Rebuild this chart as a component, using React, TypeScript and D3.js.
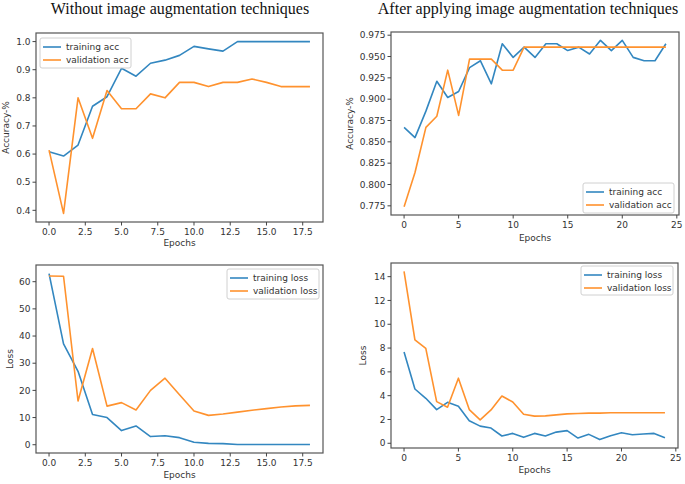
import React from 'react';
import * as d3 from 'd3';

// ---------- DATA ----------
const epochsNoAug = [0, 1, 2, 3, 4, 5, 6, 7, 8, 9, 10, 11, 12, 13, 14, 15, 16, 17, 18];
const epochsAug = [0, 1, 2, 3, 4, 5, 6, 7, 8, 9, 10, 11, 12, 13, 14, 15, 16, 17, 18, 19, 20, 21, 22, 23, 24];

const trainAccNoAug = [0.608, 0.593, 0.632, 0.770, 0.804, 0.905, 0.877, 0.923, 0.934, 0.951, 0.983, 0.974, 0.966, 1.0, 1.0, 1.0, 1.0, 1.0, 1.0];
const valAccNoAug = [0.614, 0.389, 0.800, 0.656, 0.826, 0.761, 0.761, 0.814, 0.800, 0.855, 0.855, 0.840, 0.855, 0.855, 0.867, 0.855, 0.840, 0.840, 0.840];

const trainAccAug = [0.867, 0.855, 0.886, 0.921, 0.902, 0.909, 0.937, 0.945, 0.918, 0.965, 0.949, 0.961, 0.949, 0.965, 0.965, 0.957, 0.961, 0.953, 0.969, 0.957, 0.969, 0.949, 0.945, 0.945, 0.965];
const valAccAug = [0.774, 0.814, 0.867, 0.880, 0.934, 0.881, 0.947, 0.947, 0.947, 0.934, 0.934, 0.961, 0.961, 0.961, 0.961, 0.961, 0.961, 0.961, 0.961, 0.961, 0.961, 0.961, 0.961, 0.961, 0.961];

const trainLossNoAug = [63.0, 37.1, 27.0, 11.1, 10.0, 5.2, 6.9, 3.0, 3.3, 2.6, 0.9, 0.5, 0.4, 0.1, 0.1, 0.1, 0.1, 0.1, 0.1];
const valLossNoAug = [62.1, 62.0, 16.1, 35.4, 14.2, 15.5, 12.8, 20.0, 24.5, 18.4, 12.4, 10.8, 11.3, 12.0, 12.7, 13.3, 13.9, 14.3, 14.5];

const trainLossAug = [7.67, 4.56, 3.78, 2.83, 3.44, 3.11, 1.89, 1.44, 1.28, 0.61, 0.83, 0.5, 0.83, 0.61, 0.94, 1.06, 0.44, 0.75, 0.31, 0.64, 0.89, 0.72, 0.78, 0.83, 0.47];
const valLossAug = [14.44, 8.69, 7.97, 3.5, 3.03, 5.47, 2.83, 1.97, 2.8, 3.97, 3.47, 2.44, 2.28, 2.3, 2.39, 2.47, 2.5, 2.53, 2.53, 2.56, 2.56, 2.56, 2.56, 2.56, 2.56];

const xTicksNoAug = [0, 2.5, 5, 7.5, 10, 12.5, 15, 17.5];
const xTicksAug = [0, 5, 10, 15, 20, 25];
const yTicksAccNoAug = [0.4, 0.5, 0.6, 0.7, 0.8, 0.9, 1.0];
const yTicksAccAug = [0.775, 0.8, 0.825, 0.85, 0.875, 0.9, 0.925, 0.95, 0.975];
const yTicksLossNoAug = [0, 10, 20, 30, 40, 50, 60];
const yTicksLossAug = [0, 2, 4, 6, 8, 10, 12, 14];

const titleLeft = 'Without image augmentation techniques';
const titleRight = 'After applying image augmentation techniques';
const accLegend = ['training acc', 'validation acc'];
const lossLegend = ['training loss', 'validation loss'];

// ---------- STYLE ----------
const BLUE = '#3387c0';
const ORANGE = '#ff922e';
const FONT = 'DejaVu Sans, sans-serif';

type PanelProps = {
  box: { x0: number; x1: number; y0: number; y1: number };
  xs: number[];
  train: number[];
  val: number[];
  xTicks: number[];
  xFmt: (v: number) => string;
  yTicks: number[];
  yFmt: (v: number) => string;
  yLabel: string;
  yLabelX: number;
  xLabelY: number;
  legendLabels: string[];
  legend: { x: number; y: number; w: number; h: number };
};

function pad(ext: [number, number]): [number, number] {
  const m = (ext[1] - ext[0]) * 0.05;
  return [ext[0] - m, ext[1] + m];
}

function Panel(p: PanelProps) {
  const { box } = p;
  const x = d3.scaleLinear().domain(pad(d3.extent(p.xs) as [number, number])).range([box.x0, box.x1]);
  const all = p.train.concat(p.val);
  const y = d3.scaleLinear().domain(pad(d3.extent(all) as [number, number])).range([box.y1, box.y0]);
  const line = d3.line<number>().x((_, i) => x(p.xs[i])).y((d) => y(d));
  const lg = p.legend;
  return (
    <g>
      <rect x={box.x0} y={box.y0} width={box.x1 - box.x0} height={box.y1 - box.y0} fill="white" stroke="#555" strokeWidth={1.2} />
      <path d={line(p.train) || ''} fill="none" stroke={BLUE} strokeWidth={1.6} strokeLinejoin="round" />
      <path d={line(p.val) || ''} fill="none" stroke={ORANGE} strokeWidth={1.6} strokeLinejoin="round" />
      {p.xTicks.map((t) => (
        <g key={'x' + t}>
          <line x1={x(t)} x2={x(t)} y1={box.y1} y2={box.y1 + 3.5} stroke="#444" strokeWidth={1} />
          <text x={x(t)} y={box.y1 + 13} fontSize={9} fontFamily={FONT} fill="#333" textAnchor="middle">
            {p.xFmt(t)}
          </text>
        </g>
      ))}
      {p.yTicks.map((t) => (
        <g key={'y' + t}>
          <line x1={box.x0 - 3.5} x2={box.x0} y1={y(t)} y2={y(t)} stroke="#444" strokeWidth={1} />
          <text x={box.x0 - 5.5} y={y(t) + 3.2} fontSize={9} fontFamily={FONT} fill="#333" textAnchor="end">
            {p.yFmt(t)}
          </text>
        </g>
      ))}
      <text x={(box.x0 + box.x1) / 2} y={p.xLabelY} fontSize={9} fontFamily={FONT} fill="#333" textAnchor="middle">
        Epochs
      </text>
      <text
        transform={`translate(${p.yLabelX},${(box.y0 + box.y1) / 2}) rotate(-90)`}
        fontSize={9}
        fontFamily={FONT}
        fill="#333"
        textAnchor="middle"
      >
        {p.yLabel}
      </text>
      <rect x={lg.x} y={lg.y} width={lg.w} height={lg.h} rx={2} fill="white" fillOpacity={0.85} stroke="#d0d0d0" strokeWidth={1} />
      {[BLUE, ORANGE].map((c, i) => (
        <g key={c}>
          <line x1={lg.x + 3} x2={lg.x + 21} y1={lg.y + 9 + i * 13} y2={lg.y + 9 + i * 13} stroke={c} strokeWidth={1.6} />
          <text x={lg.x + 26} y={lg.y + 12.2 + i * 13} fontSize={9} fontFamily={FONT} fill="#333">
            {p.legendLabels[i]}
          </text>
        </g>
      ))}
    </g>
  );
}

export default function App() {
  const f1 = d3.format('.1f');
  const f3 = d3.format('.3f');
  const fi = d3.format('d');
  return (
    <svg width={685} height={484} style={{ position: 'absolute', left: 0, top: 0, background: 'white' }}>
      <rect width={685} height={484} fill="white" />
      <text x={180} y={14} fontSize={16} fontFamily="Liberation Serif, serif" fill="#111" textAnchor="middle">
        {titleLeft}
      </text>
      <text x={528} y={14} fontSize={16} fontFamily="Liberation Serif, serif" fill="#111" textAnchor="middle">
        {titleRight}
      </text>
      <Panel
        box={{ x0: 36, x1: 323, y0: 33, y1: 222 }}
        xs={epochsNoAug}
        train={trainAccNoAug}
        val={valAccNoAug}
        xTicks={xTicksNoAug}
        xFmt={f1}
        yTicks={yTicksAccNoAug}
        yFmt={f1}
        yLabel="Accuracy-%"
        yLabelX={9}
        xLabelY={246}
        legendLabels={accLegend}
        legend={{ x: 40, y: 38, w: 91, h: 30 }}
      />
      <Panel
        box={{ x0: 391, x1: 679, y0: 32, y1: 215 }}
        xs={epochsAug}
        train={trainAccAug}
        val={valAccAug}
        xTicks={xTicksAug}
        xFmt={fi}
        yTicks={yTicksAccAug}
        yFmt={f3}
        yLabel="Accuracy-%"
        yLabelX={353}
        xLabelY={241}
        legendLabels={accLegend}
        legend={{ x: 583, y: 183, w: 91, h: 30 }}
      />
      <Panel
        box={{ x0: 36, x1: 323, y0: 265, y1: 453 }}
        xs={epochsNoAug}
        train={trainLossNoAug}
        val={valLossNoAug}
        xTicks={xTicksNoAug}
        xFmt={f1}
        yTicks={yTicksLossNoAug}
        yFmt={fi}
        yLabel="Loss"
        yLabelX={13}
        xLabelY={478}
        legendLabels={lossLegend}
        legend={{ x: 227, y: 269, w: 92, h: 30 }}
      />
      <Panel
        box={{ x0: 391, x1: 678, y0: 263, y1: 448 }}
        xs={epochsAug}
        train={trainLossAug}
        val={valLossAug}
        xTicks={xTicksAug}
        xFmt={fi}
        yTicks={yTicksLossAug}
        yFmt={fi}
        yLabel="Loss"
        yLabelX={366}
        xLabelY={473}
        legendLabels={lossLegend}
        legend={{ x: 581, y: 266, w: 92, h: 29 }}
      />
    </svg>
  );
}
